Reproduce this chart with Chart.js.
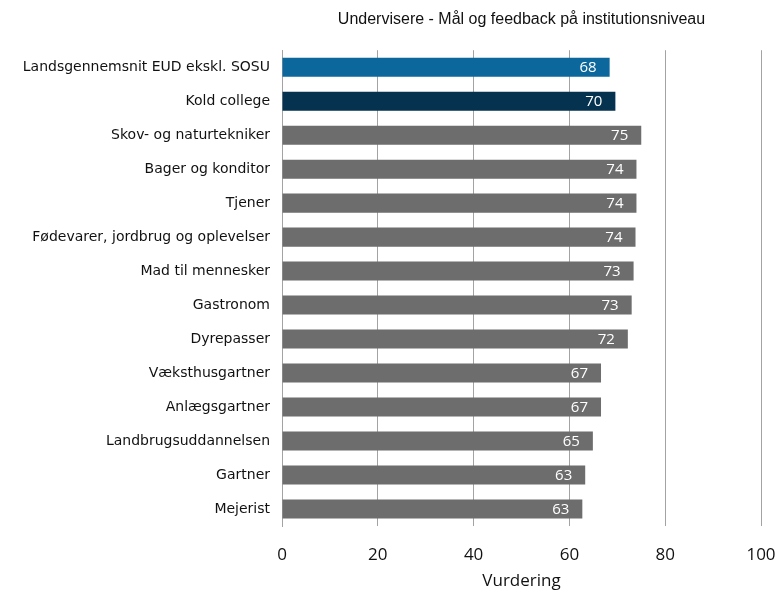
<!DOCTYPE html>
<html>
<head>
<meta charset="utf-8">
<script src="https://cdn.jsdelivr.net/npm/chart.js@4/dist/chart.umd.min.js"></script>
<style>
  html, body { margin: 0; padding: 0; background: #fff; }
  #wrap { width: 781px; height: 594px; }
</style>
</head>
<body>
<div id="wrap"><canvas id="chart" width="781" height="594"></canvas></div>
<script>
const categories = [
  'Landsgennemsnit EUD ekskl. SOSU',
  'Kold college',
  'Skov- og naturtekniker',
  'Bager og konditor',
  'Tjener',
  'Fødevarer, jordbrug og oplevelser',
  'Mad til mennesker',
  'Gastronom',
  'Dyrepasser',
  'Væksthusgartner',
  'Anlægsgartner',
  'Landbrugsuddannelsen',
  'Gartner',
  'Mejerist'
];
const values = [68.4, 69.6, 75.0, 74.0, 74.0, 73.8, 73.4, 73.0, 72.2, 66.6, 66.6, 64.9, 63.3, 62.7];
const xTicks = [0, 20, 40, 60, 80, 100];

const barColors = categories.map((c, i) => i === 0 ? '#0b679c' : i === 1 ? '#05324f' : '#6d6d6d');

// white value label just inside the end of each bar
const valueLabels = {
  id: 'valueLabels',
  afterDatasetsDraw(chart) {
    const ctx = chart.ctx;
    const meta = chart.getDatasetMeta(0);
    ctx.save();
    ctx.fillStyle = '#ffffff';
    ctx.font = '15px "Open Sans", sans-serif';
    ctx.textAlign = 'right';
    ctx.textBaseline = 'middle';
    meta.data.forEach((bar, i) => {
      ctx.fillText(String(Math.round(values[i])), bar.x - 13, bar.y + 1);
    });
    ctx.restore();
  }
};

new Chart(document.getElementById('chart'), {
  type: 'bar',
  data: {
    labels: categories,
    datasets: [{
      data: values,
      backgroundColor: barColors,
      barPercentage: 0.56,
      categoryPercentage: 1
    }]
  },
  options: {
    indexAxis: 'y',
    responsive: false,
    animation: false,
    layout: { padding: { top: 0, right: 4, bottom: 3, left: 0 } },
    plugins: {
      legend: { display: false },
      tooltip: { enabled: false },
      title: {
        display: true,
        fullSize: false,
        text: 'Undervisere - Mål og feedback på institutionsniveau',
        color: '#111',
        font: { family: '"Liberation Sans", sans-serif', size: 16, weight: 'normal' },
        padding: { top: 10, bottom: 21 }
      }
    },
    scales: {
      x: {
        min: 0,
        max: 100,
        afterBuildTicks: s => { s.ticks = xTicks.map(v => ({ value: v })); },
        grid: { color: '#a3a3a3', lineWidth: 1, drawTicks: false },
        border: { display: false },
        ticks: { color: '#111', padding: 19, font: { family: '"Open Sans", sans-serif', size: 17 } },
        title: {
          display: true,
          text: 'Vurdering',
          color: '#111',
          font: { family: '"Open Sans", sans-serif', size: 17 },
          padding: { top: 6, bottom: 0 }
        },
        afterFit: s => { s.height = 65; s.paddingRight = 20; s.paddingLeft = 0; }
      },
      y: {
        grid: { display: false, drawTicks: false },
        border: { display: true, color: '#a3a3a3' },
        ticks: { color: '#111', padding: 12, autoSkip: false, font: { family: '"DejaVu Sans", sans-serif', size: 14 } },
        afterFit: s => { s.width = 282; }
      }
    }
  },
  plugins: [valueLabels]
});
</script>
</body>
</html>
